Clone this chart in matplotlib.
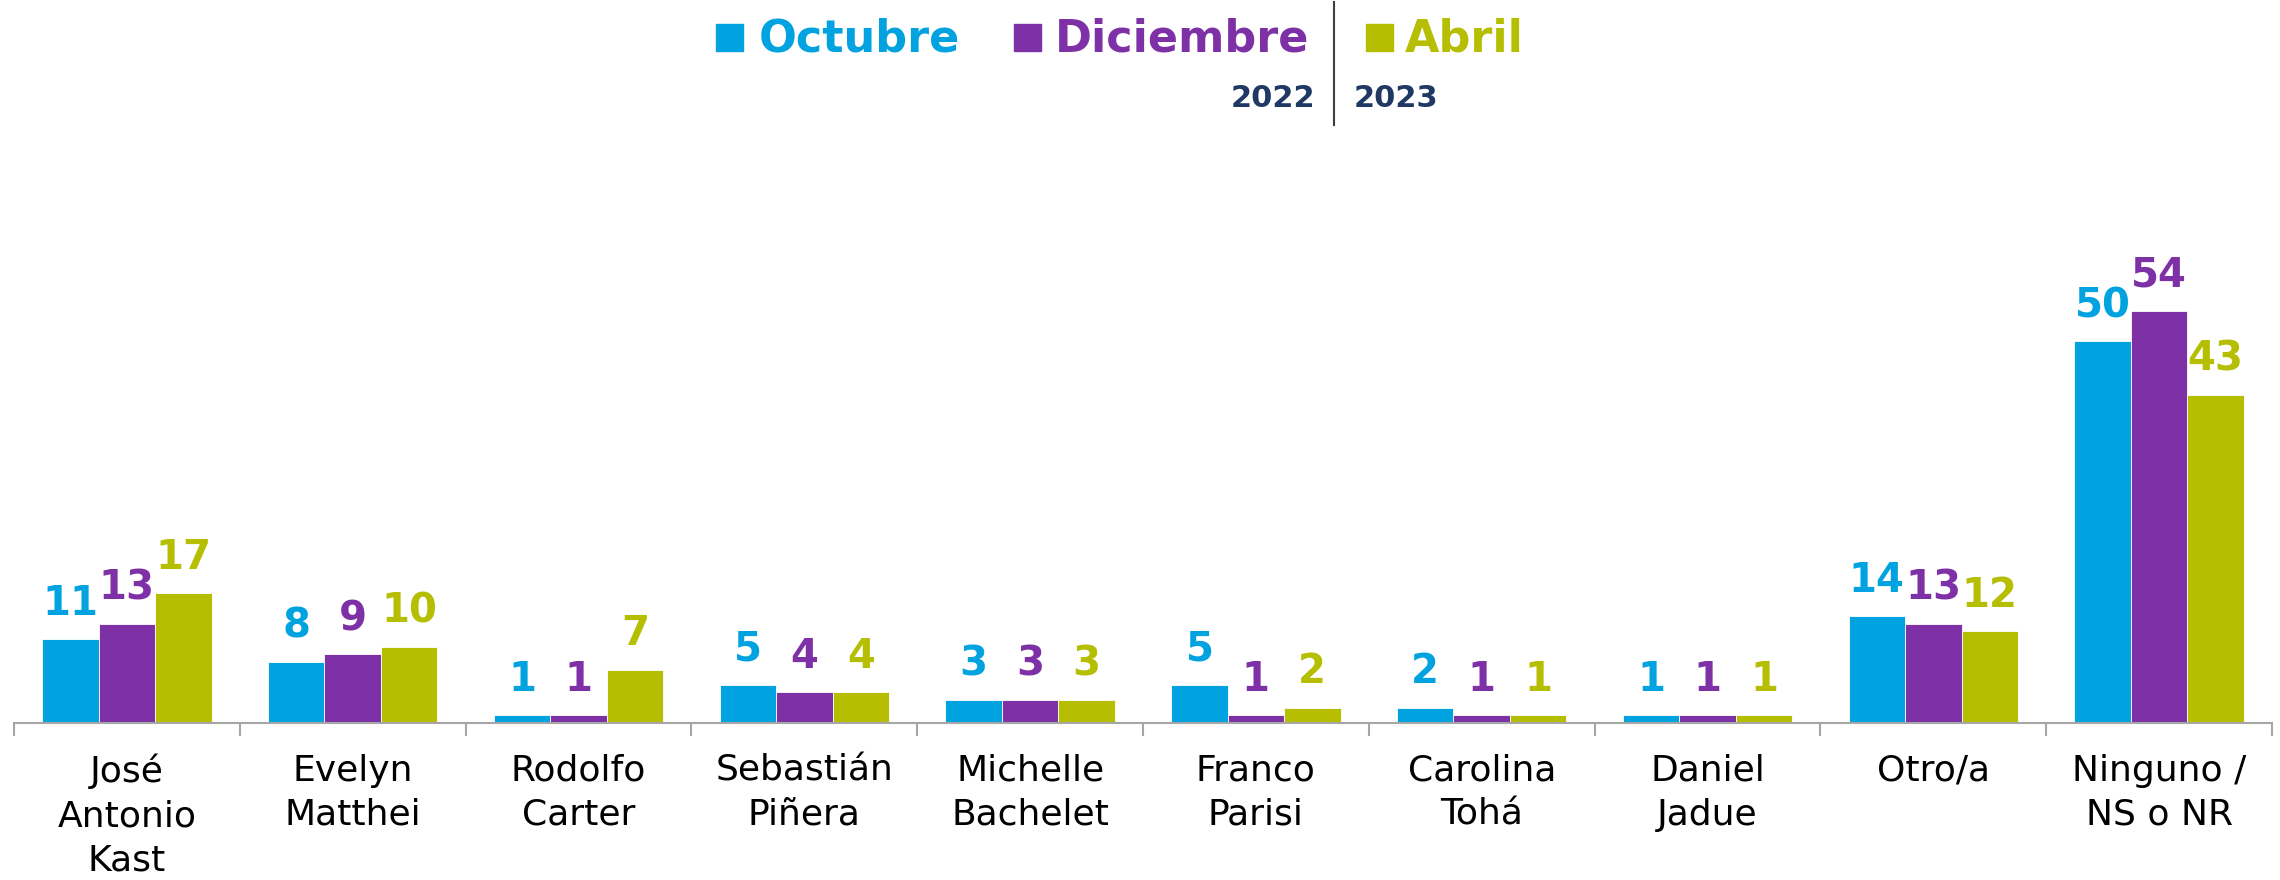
import numpy as np
import matplotlib
matplotlib.use("Agg")
import matplotlib.pyplot as plt
from matplotlib.patches import Rectangle

plt.rcParams['font.family'] = ['DejaVu Sans']

categories = ["José\nAntonio\nKast", "Evelyn\nMatthei", "Rodolfo\nCarter", "Sebastián\nPiñera",
              "Michelle\nBachelet", "Franco\nParisi", "Carolina\nTohá", "Daniel\nJadue",
              "Otro/a", "Ninguno /\nNS o NR"]
octubre = [11, 8, 1, 5, 3, 5, 2, 1, 14, 50]
diciembre = [13, 9, 1, 4, 3, 1, 1, 1, 13, 54]
abril = [17, 10, 7, 4, 3, 2, 1, 1, 12, 43]
series_names = ["Octubre", "Diciembre", "Abril"]
colors = ["#00A3DF", "#7E31A6", "#B5BE00"]

W, H = 2280, 880
fig = plt.figure(figsize=(W / 100, H / 100), dpi=100)
ax = fig.add_axes([14 / W, 1 - 723 / H, (2272 - 14) / W, (723 - 265) / H])

x = np.arange(len(categories))
bw = 0.25
for k, (vals, c) in enumerate(zip([octubre, diciembre, abril], colors)):
    pos = x + (k - 1) * bw
    ax.bar(pos, vals, width=bw, color=c, edgecolor="white", linewidth=0.6)
    for px, v in zip(pos, vals):
        ax.annotate(str(v), (px, v), xytext=(0, 11), textcoords="offset points",
                    ha="center", va="bottom", fontsize=29, fontweight="bold", color=c)

ax.set_xlim(-0.5, len(categories) - 0.5)
ax.set_ylim(0, 60)
for s in ["top", "right", "left"]:
    ax.spines[s].set_visible(False)
ax.spines["bottom"].set_color("#A6A6A6")
ax.spines["bottom"].set_linewidth(1.5)
ax.set_yticks([])
ax.set_xticks(x)
ax.set_xticklabels(categories, fontsize=26, color="black", linespacing=1.38)
ax.tick_params(axis="x", which="major", length=0, pad=22)
ax.set_xticks(np.arange(-0.5, len(categories)), minor=True)
ax.tick_params(axis="x", which="minor", length=9, width=1.5, color="#A6A6A6", direction="out")

# legend
sq = [(716, 24), (1014, 24), (1366, 24)]
txt_x = [759, 1055, 1405]
for (sx, sy), tx, name, c in zip(sq, txt_x, series_names, colors):
    fig.patches.append(Rectangle((sx / W, 1 - (sy + 27) / H), 27 / W, 27 / H,
                                 transform=fig.transFigure, color=c))
    fig.text(tx / W, 1 - 52 / H, name, fontsize=32, fontweight="bold", color=c,
             ha="left", va="baseline")

fig.add_artist(plt.Line2D([1334 / W, 1334 / W], [1 - 2 / H, 1 - 125 / H],
                          transform=fig.transFigure, color="#404040", linewidth=1.5))
fig.text(1315 / W, 1 - 107 / H, "2022", fontsize=22, fontweight="bold", color="#1F3864",
         ha="right", va="baseline")
fig.text(1354 / W, 1 - 107 / H, "2023", fontsize=22, fontweight="bold", color="#1F3864",
         ha="left", va="baseline")

fig.savefig("out.png", dpi=100)
